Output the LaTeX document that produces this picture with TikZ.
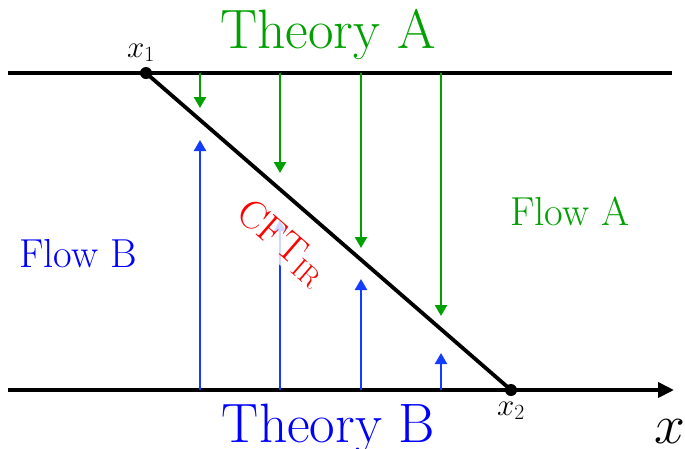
\RequirePackage{fix-cm}
\documentclass[tikz,border=0pt]{standalone}
\usetikzlibrary{arrows.meta}
\definecolor{gA}{RGB}{0,160,0}
\definecolor{bB}{RGB}{20,60,255}
\tikzset{
  axisline/.style={line width=3.8pt},
  dot/.style={circle,fill=black,inner sep=0pt,minimum size=12pt},
  garrow/.style={gA,line width=2.4pt,-{Triangle[length=11pt,width=12pt]}},
  barrow/.style={bB,line width=2.4pt,-{Triangle[length=11pt,width=12pt]}},
  bigtxt/.style={font=\fontsize{55.5}{66}\selectfont,anchor=base,inner sep=0pt},
  midtxt/.style={font=\fontsize{40.5}{48}\selectfont,anchor=base,inner sep=0pt},
  lbl/.style={font=\fontsize{31}{37}\selectfont,anchor=base,inner sep=0pt}
}
\begin{document}
\begin{tikzpicture}[x=1pt,y=-1pt]
\useasboundingbox (0,0) rectangle (685,448);
% axis lines
\coordinate (TL) at (8,73);
\coordinate (TR) at (672,73);
\coordinate (BL) at (8,390);
\coordinate (BR) at (674,390);
\draw[axisline] (TL) -- (TR);
\draw[axisline,-{Triangle[length=16pt,width=15pt]}] (BL) -- (BR);
% points
\node[dot] (x1) at (146,73) {};
\node[dot] (x2) at (511,390) {};
\draw[axisline] (x1.center) -- (x2.center);
% green arrows
\foreach \i/\xx/\yy in {1/200/108,2/280/173,3/361/248,4/441/316}{
  \coordinate (gs\i) at (\xx,73);
  \coordinate (ge\i) at (\xx,\yy);
  \draw[garrow] (gs\i) -- (ge\i);
}
% blue arrows
\foreach \i/\xx/\yy in {1/200/140,2/280/220,3/361/279,4/441/353}{
  \coordinate (bs\i) at (\xx,390);
  \coordinate (be\i) at (\xx,\yy);
  \draw[barrow] (bs\i) -- (be\i);
}
% labels
\node[bigtxt,gA] (thA) at (328,48) {Theory A};
\node[bigtxt,blue] (thB) at (328.5,442) {Theory B};
\node[midtxt,blue] (flB) at (78,267) {Flow B};
\node[midtxt,gA] (flA) at (570,225) {Flow A};
\node[lbl] (lx1) at (141,57) {$x_1$};
\node[lbl] (lx2) at (511,415) {$x_2$};
\node[bigtxt] (lx) at (670,443) {$x$};
\node[font=\fontsize{40}{48}\selectfont,red,rotate=-41,fill=white,fill opacity=0.8,text opacity=1,inner sep=1pt] (cft) at (282,243) {CFT$_{\mathrm{IR}}$};
\end{tikzpicture}
\end{document}
